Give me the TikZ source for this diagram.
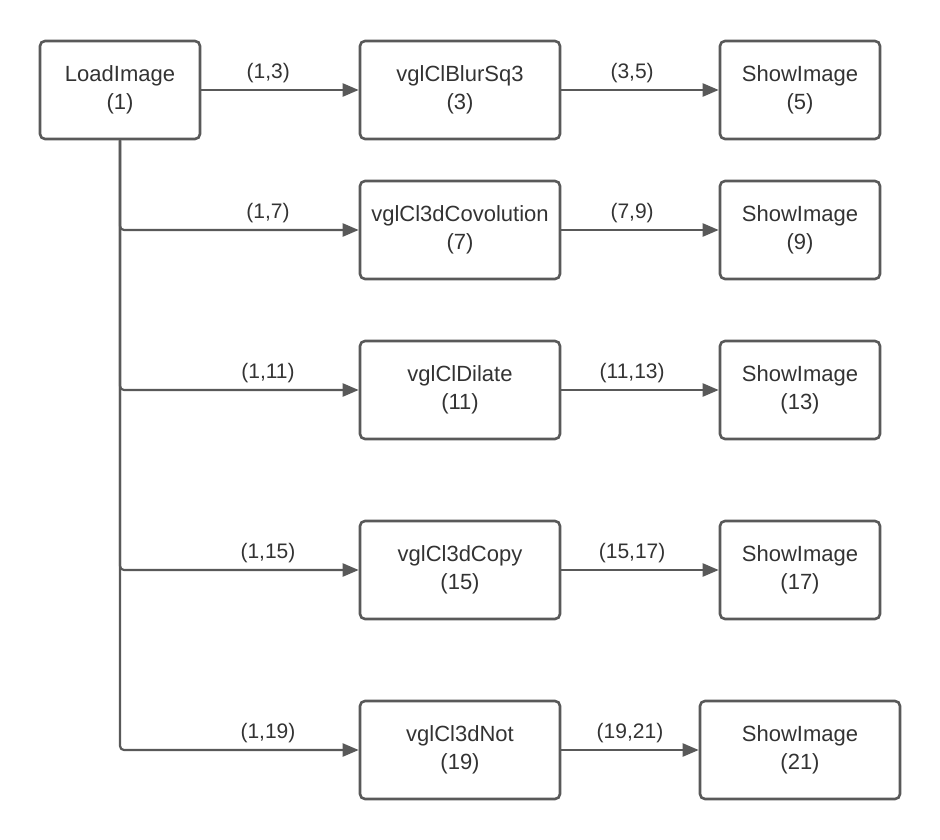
\documentclass[tikz,border=0pt]{standalone}
\usepackage{fontspec}
\setmainfont{Liberation Sans}
\usetikzlibrary{arrows.meta}
\definecolor{linec}{HTML}{595959}
\definecolor{textc}{HTML}{333333}
\tikzset{
  box/.style={draw=linec, line width=2.6pt, rounded corners=5pt, minimum height=98pt, inner sep=0pt, align=center, text=textc, font=\fontsize{22}{28}\selectfont},
  conn/.style={draw=linec, line width=2.2pt, rounded corners=4pt, -{Triangle[length=16pt,width=13pt]}},
  elabel/.style={text=textc, font=\fontsize{21}{24}\selectfont, inner sep=0pt, anchor=south, yshift=6pt}
}
\begin{document}
\begin{tikzpicture}[x=1pt,y=-1pt]
\useasboundingbox (0,0) rectangle (940,840);
\node[box, minimum width=160pt] (load) at (120,90) {LoadImage\\(1)};
\node[box, minimum width=200pt] (blur) at (460,90) {vglClBlurSq3\\(3)};
\node[box, minimum width=160pt] (s5) at (800,90) {ShowImage\\(5)};
\node[box, minimum width=200pt] (conv) at (460,230) {vglCl3dCovolution\\(7)};
\node[box, minimum width=160pt] (s9) at (800,230) {ShowImage\\(9)};
\node[box, minimum width=200pt] (dil) at (460,390) {vglClDilate\\(11)};
\node[box, minimum width=160pt] (s13) at (800,390) {ShowImage\\(13)};
\node[box, minimum width=200pt] (copy) at (460,570) {vglCl3dCopy\\(15)};
\node[box, minimum width=160pt] (s17) at (800,570) {ShowImage\\(17)};
\node[box, minimum width=200pt] (not) at (460,750) {vglCl3dNot\\(19)};
\node[box, minimum width=200pt] (s21) at (800,750) {ShowImage\\(21)};

\draw[conn] (load.east) -- node[elabel, pos=0.425] {(1,3)} (blur.west);
\draw[conn] (blur.east) -- node[elabel, pos=0.45] {(3,5)} (s5.west);
\draw[conn] (load.south) |- node[elabel, pos=0.81] {(1,7)} (conv.west);
\draw[conn] (conv.east) -- node[elabel, pos=0.45] {(7,9)} (s9.west);
\draw[conn] (load.south) |- node[elabel, pos=0.81] {(1,11)} (dil.west);
\draw[conn] (dil.east) -- node[elabel, pos=0.45] {(11,13)} (s13.west);
\draw[conn] (load.south) |- node[elabel, pos=0.81] {(1,15)} (copy.west);
\draw[conn] (copy.east) -- node[elabel, pos=0.45] {(15,17)} (s17.west);
\draw[conn] (load.south) |- node[elabel, pos=0.81] {(1,19)} (not.west);
\draw[conn] (not.east) -- node[elabel, pos=0.5] {(19,21)} (s21.west);
\end{tikzpicture}
\end{document}
